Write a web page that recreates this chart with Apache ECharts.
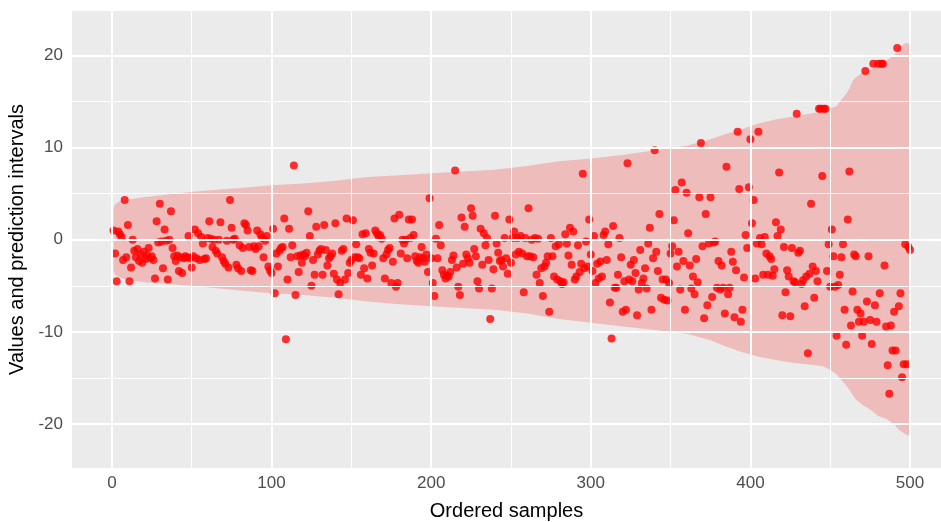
<!DOCTYPE html>
<html>
<head>
<meta charset="utf-8">
<script src="https://cdn.jsdelivr.net/npm/echarts@6/dist/echarts.min.js"></script>
<style>
  html, body { margin: 0; padding: 0; background: #fff; }
  #chart { width: 941px; height: 522px; }
</style>
</head>
<body>
<div id="chart"></div>
<script>
// one value per ordered sample (sample 1 .. 500)
let sampleValues = [
  1.0, -1.5, -4.5, 0.9, 0.6, 0.3, -2.2, 4.3, -1.9, 1.6,
  -4.5, -3.0, 0.0, -1.2, -1.9, -1.0, -2.3, -1.6, -2.5, -1.3,
  -2.1, -1.7, -0.9, -2.0, -1.8, -2.2, -4.2, 2.0, -0.3, 3.9,
  -0.2, -3.1, 1.1, -0.1, -4.3, 0.0, 3.1, -0.9, -1.8, -2.3,
  -1.7, -3.4, -1.9, -3.6, -2.0, -1.8, -1.9, 0.4, -2.0, -3.0,
  -1.8, 1.1, -2.0, 0.7, -2.2, 0.3, -0.4, -2.1, -2.0, 0.2,
  2.0, 0.1, -0.8, 0.0, -1.2, -1.5, 0.0, 1.9, -1.9, -2.3,
  -2.6, -0.1, -3.0, 4.3, 1.3, 0.0, 0.1, -2.7, -3.1, -0.6,
  -3.4, -0.9, 1.8, 1.6, 1.0, -0.8, -3.3, -3.4, -0.7, -1.0,
  1.0, -0.7, 0.6, 0.2, -1.9, -0.1, 0.4, -2.9, -3.3, -3.6,
  1.2, -5.8, -1.5, -2.9, -1.2, -0.9, -0.8, 2.3, -10.8, -4.3,
  1.2, -1.9, -0.6, 8.05, -6.0, -1.8, -3.5, -1.7, -2.5, -1.6,
  -1.8, -1.4, 3.1, 0.4, -5.0, -2.2, -3.8, 1.4, -1.6, -1.2,
  -1.0, -3.8, 1.6, -1.1, -2.8, -2.0, -1.8, -1.5, -3.7, 1.8,
  -4.3, -5.9, -4.7, -1.2, -1.0, -4.3, 2.3, -3.6, -2.5, -2.2,
  2.1, -1.9, -0.5, -1.9, -2.0, -3.8, 0.6, -3.1, 0.7, -4.2,
  -1.0, -1.4, -2.8, -1.5, 1.0, 0.7, 0.4, 0.5, 0.1, -2.0,
  -4.2, -1.6, -1.1, -0.9, -4.7, -2.4, 2.3, -5.1, -4.7, 2.7,
  -1.5, 0.0, -0.4, 0.0, -2.0, 2.2, 0.2, 2.2, 0.5, -1.8,
  -2.3, -2.5, -1.9, -0.8, -2.0, -2.4, -1.6, -3.5, 4.5, -2.0,
  -4.7, -6.1, 0.1, -2.0, 1.6, -0.6, -3.3, -3.8, -4.2, -3.9,
  -4.0, -3.5, -2.2, -1.7, 7.5, -3.0, -5.1, -6.0, 2.4, -2.6,
  1.4, -1.6, -2.0, -2.5, 3.4, 2.6, -1.0, -1.8, -4.5, -5.3,
  1.2, -2.7, 0.7, -0.6, 0.2, -2.2, -8.6, -5.3, -3.2, 2.6,
  -0.4, -1.4, -2.3, -2.2, -2.9, 0.2, -2.0, -3.7, 2.2, -2.5,
  0.2, 0.9, -1.6, 0.2, -1.3, 0.4, -1.5, -5.7, 0.2, -1.8,
  3.4, -1.8, 0.0, -1.9, 0.2, -3.8, 0.1, -4.7, -3.1, -6.1,
  -2.9, -2.5, -1.8, -7.8, 0.2, -1.8, -4.0, -0.7, -4.3, -0.5,
  -4.5, -4.8, -4.6, 0.6, -0.4, -1.7, 1.3, -2.7, 0.9, -4.3,
  -4.0, -0.6, -3.5, -2.6, 7.15, -3.1, -0.2, -2.9, 2.2, -1.6,
  -3.4, 0.4, -4.7, -2.6, -4.2, -2.35, -4.0, 0.5, 0.9, -2.2,
  -0.5, -6.8, -10.7, 1.5, -5.2, -5.2, -3.8, 0.2, -1.9, -7.8,
  -4.5, -7.6, 8.3, -4.3, -2.7, -4.5, -2.2, -3.6, -8.2, -5.4,
  -1.1, -4.7, -4.2, -3.1, -5.3, -0.4, 1.3, -7.6, -2.0, 9.7,
  -1.3, -3.4, 2.8, -6.3, -4.3, -6.5, -4.3, -6.6, -4.7, -1.5,
  -0.7, 2.1, 5.4, -2.9, -1.3, -5.4, 6.2, -2.3, -7.6, 5.1,
  0.7, -2.8, -5.3, -4.0, -5.9, -2.1, -4.6, 4.6, 10.5, -0.7,
  -8.5, 2.8, -7.1, -0.4, 4.6, -6.2, -0.3, -0.2, -5.2, -2.3,
  -5.4, -2.8, -5.2, -8.0, 7.9, -5.9, -5.2, -1.3, -2.4, -8.4,
  -3.3, 11.7, 5.5, -8.9, -7.6, -4.1, 0.5, -0.9, 5.7, 10.9,
  1.8, 4.3, -4.2, -0.4, 11.7, 0.2, -0.5, -3.8, 0.3, -1.5,
  -3.8, -1.8, -2.1, -3.9, -3.2, 1.9, 0.4, 7.3, 1.1, -8.2,
  -0.8, -5.7, -3.3, -4.0, -8.3, -0.9, -4.5, -4.6, 13.65, -1.4,
  -1.2, -4.8, -4.4, -7.2, -4.0, -12.3, -3.7, 3.9, -2.9, -6.3,
  -3.4, -4.5, 14.2, 14.2, 6.9, 14.2, 14.2, -3.4, -0.5, -5.1,
  1.1, -1.8, -5.1, -10.4, -4.9, -3.8, -1.9, -0.5, -7.6, -11.4,
  2.2, 7.4, -9.3, -5.6, -1.6, -1.8, -7.6, -8.9, -8.0, -10.4,
  -8.9, 18.3, -6.7, -1.8, -8.7, -11.3, 19.07, -7.1, -8.9, 19.07,
  -5.8, 19.07, 19.07, -2.8, -9.4, -13.6, -16.7, -9.3, -12.0, -7.8,
  -12.0, 20.8, -7.2, -5.8, -14.9, -13.5, -0.5, -13.5, -0.8, -1.1
];

// prediction interval band, at sample positions
let ribbonX = [1, 2, 4, 8, 20, 35, 50, 80, 100, 120, 140, 160, 180, 200, 220, 240, 260, 280, 300, 320,
  340, 360, 375, 385, 395, 405, 415, 425, 435, 445, 450, 454, 457, 460, 462, 464, 466, 470, 475, 480,
  485, 490, 493, 497, 500];
let ribbonUpper = [3.4, 3.8, 4.1, 4.3, 4.6, 4.9, 5.2, 5.6, 5.9, 6.1, 6.4, 6.8, 7.0, 7.2, 7.4, 7.6, 8.0, 8.5, 8.8, 9.2,
  9.7, 10.2, 10.9, 11.5, 12.0, 12.6, 13.0, 13.3, 13.6, 13.9, 14.2, 14.5, 15.2, 15.8, 16.4, 17.2, 17.6, 18.1, 18.4, 19.0,
  19.4, 20.0, 20.8, 21.3, 21.3];
let ribbonLower = [-3.4, -3.8, -4.0, -4.3, -4.6, -4.8, -5.0, -5.5, -5.8, -6.0, -6.3, -6.7, -7.0, -7.2, -7.4, -7.6, -8.0, -8.6, -9.0, -9.4,
  -9.8, -10.2, -10.9, -11.6, -12.2, -12.7, -13.0, -13.3, -13.5, -13.7, -14.1, -14.6, -15.2, -15.8, -16.3, -16.8, -17.3, -17.9, -18.4, -19.1,
  -19.4, -20.0, -20.6, -21.1, -21.3];

let xTicks = [0, 100, 200, 300, 400, 500];
let xMinor = [50, 150, 250, 350, 450];
let yTicks = [-20, -10, 0, 10, 20];
let yMinor = [-15, -5, 5, 15];

let points = sampleValues.map((v, i) => [i + 1, v]);

let gridLines = []
  .concat(xMinor.map((v) => ({ xAxis: v, lineStyle: { width: 1 } })))
  .concat(yMinor.map((v) => ({ yAxis: v, lineStyle: { width: 1 } })))
  .concat(xTicks.map((v) => ({ xAxis: v, lineStyle: { width: 2 } })))
  .concat(yTicks.map((v) => ({ yAxis: v, lineStyle: { width: 2 } })));

let renderRibbon = (params, api) => {
  let pts = [];
  for (let k = 0; k < ribbonX.length; k++) {
    pts.push(api.coord([ribbonX[k], ribbonUpper[k]]));
  }
  for (let k = ribbonX.length - 1; k >= 0; k--) {
    pts.push(api.coord([ribbonX[k], ribbonLower[k]]));
  }
  return {
    type: "polygon",
    shape: { points: pts },
    style: { fill: "rgba(255,0,0,0.2)" },
  };
};

let chart = echarts.init(document.getElementById("chart"));

chart.setOption({
  animation: false,
  grid: {
    left: 72,
    right: 0,
    top: 11,
    bottom: 54,
    outerBoundsMode: "none",
    containLabel: false,
    show: true,
    backgroundColor: "#EBEBEB",
    borderWidth: 0,
  },
  xAxis: {
    type: "value",
    min: -25,
    max: 519.4, // the panel is cut at the right edge of the picture
    name: "Ordered samples",
    nameLocation: "middle",
    nameGap: 33,
    nameTextStyle: { fontFamily: "Liberation Sans", fontSize: 20, color: "#000" },
    axisLine: { show: false },
    axisTick: { show: true, length: 5, customValues: xTicks, lineStyle: { color: "#333", width: 1 } },
    axisLabel: { customValues: xTicks, fontFamily: "Liberation Sans", fontSize: 17, color: "#4D4D4D", margin: 7 },
    splitLine: { show: false },
  },
  yAxis: {
    type: "value",
    min: -24.75,
    max: 24.8,
    name: "Values and prediction intervals",
    nameLocation: "middle",
    nameGap: 42,
    nameTextStyle: { fontFamily: "Liberation Sans", fontSize: 20, color: "#000" },
    axisLine: { show: false },
    axisTick: { show: true, length: 5, customValues: yTicks, lineStyle: { color: "#333", width: 1 } },
    axisLabel: { customValues: yTicks, fontFamily: "Liberation Sans", fontSize: 17, color: "#4D4D4D", margin: 9 },
    splitLine: { show: false },
  },
  series: [
    {
      // panel grid lines
      type: "scatter",
      data: [],
      z: 1,
      silent: true,
      markLine: {
        silent: true,
        symbol: ["none", "none"],
        label: { show: false },
        lineStyle: { color: "#FFFFFF", type: "solid" },
        emphasis: { disabled: true },
        data: gridLines,
      },
    },
    {
      type: "custom",
      z: 2,
      silent: true,
      data: [[0]],
      renderItem: renderRibbon,
    },
    {
      type: "scatter",
      z: 3,
      data: points,
      symbol: "circle",
      symbolSize: 8,
      itemStyle: { color: "#FF0000" },
      silent: true,
    },
  ],
});
</script>
</body>
</html>
